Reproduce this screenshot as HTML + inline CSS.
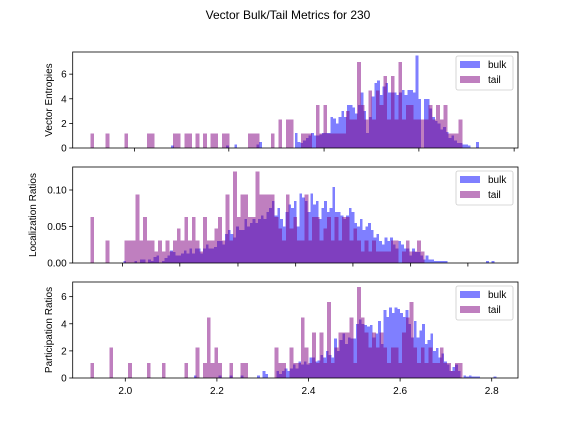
<!DOCTYPE html>
<html><head><meta charset="utf-8"><style>
html,body{margin:0;padding:0;background:#fff;}
svg{display:block;font-family:"Liberation Sans","DejaVu Sans",sans-serif;}
</style></head><body>
<svg id="chart" width="576" height="432" viewBox="0 0 576 432" xmlns="http://www.w3.org/2000/svg">
<text x="288" y="19" font-size="12" text-anchor="middle">Vector Bulk/Tail Metrics for 230</text>
</svg>
<script>
// ---- data ----
const tailStart = 1.924, tailWidth = 0.0082, bulkWidth = 0.006;
const bulkStarts = [2.10, 1.99, 2.15];
const yLabels = ["Vector Entropies", "Localization Ratios", "Participation Ratios"];
const yMax = [7.8, 0.1315, 7.08];
const yTicks1 = [0, 2, 4, 6];
const yTicks2 = [0.00, 0.05, 0.10];
const yTicks3 = [0, 2, 4, 6];
const yTickLabels2 = ["0.00", "0.05", "0.10"];
const xTicks1 = [2.02, 2.226, 2.434, 2.641, 2.849];
const xTicks2 = [1.994, 2.119, 2.246, 2.372, 2.497, 2.623, 2.748];
const xTicks3 = [2.0, 2.2, 2.4, 2.6, 2.8];
const xTickLabels3 = ["2.0", "2.2", "2.4", "2.6", "2.8"];

const bulk1 = [0.2,0,0,0,0,0,0,0,0,0, 0,0,0,0,0,0,0,0,0,0, 0.2,0,0,0.3,0,0,0,0,0,0, 0,0.3,0.5,0,0,0,0,0,0,0, 0,0,0,0,0,1.2,0.5,0.4,0.6,0.8, 1.0,1.2,1.0,1.0,1.1,1.2,1.2,1.2,2.5,2.4, 2.0,2.5,3.0,2.5,3.5,3.5,3.3,2.8,3.5,4.5, 3.0,1.2,2.5,4.2,5.3,5.5,4.3,5.0,5.3,4.5, 4.5,4.5,4.3,4.5,4.7,4.3,4.7,4.7,4.5,7.5, 4.0,0,4.0,4.0,3.2,2.5,2.2,2.0,1.5,1.7, 1.3,0.8,1.0,0.6,0.4,0.4,0.3,0.3,0.2,0, 0,0.5,0,0];
const tail1 = [1.17,0,0,0,1.17,0,0,0,0,1.17, 0,0,0,0,0,1.17,1.17,0,0,0, 0,0,1.17,1.17,0,1.17,1.17,0,1.17,0, 1.17,0,1.17,1.17,0,1.17,1.17,0,0,0, 0,0,1.17,1.17,1.17,0,0,0,1.17,0, 2.33,0,2.33,2.33,0,0,1.17,1.17,1.17,0, 3.5,1.17,3.5,1.17,1.17,1.17,1.17,1.17,3.0,2.33, 2.33,7.0,3.5,2.33,4.67,2.33,4.67,3.5,5.83,2.33, 5.83,2.33,7.0,2.33,3.5,3.5,2.33,2.33,2.33,2.33, 3.5,2.33,3.5,2.33,3.5,1.17,1.17,1.17,2.33,0];

const bulk2 = [0,.003,0,0,0,.003,0,.005,.005,0, .005,.003,.008,.01,0,.003,.007,.01,.017,.015, .01,.01,.013,.017,.013,.02,.013,.02,.02,.013, .02,.025,.02,.02,.022,.03,.03,.025,.04,.045, .04,.035,.05,.045,.045,.06,.05,.055,.06,.055, .06,.065,.06,.07,.075,.085,.065,.075,.06,.05, .07,.08,.075,.085,.05,.095,.09,.085,.07,.095, .08,.085,.06,.075,.085,.07,.075,.104,.07,.07, .065,.06,.065,.075,.07,.055,.05,.06,.045,.05, .055,.045,.035,.04,.03,.025,.035,.03,.035,.025, .02,.03,.025,.02,.02,.01,.02,.015,.015,.01, .005,.01,.005,.005,.003,.003,.003,.003,.003,0, 0,0,0,0,0,0,0,0,0,0, 0,0,0,.003,0,.003,0];
const tail2 = [.063,0,0,0,.031,0,0,0,0,.031, .031,.031,.094,.031,.063,.031,.031,.016,.031,.016, .031,.016,.031,.047,.031,.063,.031,.063,.031,.016, .063,.031,.031,.047,.063,.031,.094,.031,.125,.063, .094,.094,.063,.063,.125,.094,.094,.094,.094,.063, .047,.031,.094,.047,.063,.031,.031,.094,.031,.063, .063,.031,.047,.063,.031,.063,.031,.063,.063,.031, .047,.031,.016,.031,.016,.031,.016,.016,.016,.016, .031,.031,0,.016,.031,.016,.016,.031,.016,0, 0,0,0,0,0,0,0,0,0,0];

const bulk3 = [0.2,0,0,0,0,0,0,0,0,0.2, 0,0,0,0.2,0,0,0,0.2,0,0, 0,0,0,0.2,0,0.5,0.3,0,0,0, 0.5,0.3,0.5,0.7,0.5,0.7,1.0,0.7,1.2,1.0, 1.2,1.0,1.5,1.5,1.2,1.3,1.7,1.5,2.0,1.7, 1.5,2.9,2.0,2.8,3.3,2.5,3.0,2.9,2.9,4.0, 4.3,4.0,3.9,3.8,3.9,3.0,3.3,4.2,2.5,5.0, 4.5,5.2,4.8,5.2,5.1,4.8,4.5,5.0,4.0,3.0, 4.2,3.0,3.5,4.0,2.5,2.8,3.3,2.0,2.2,1.5, 1.8,1.2,1.0,0.5,0.8,1.0,0.5,0,0.2,0.1, 0.2,0.1,0.1,0.1,0,0,0,0,0,0.1];
const tail3 = [1.12,0,0,0,0,2.24,0,0,0,0, 1.12,0,0,0,0,1.12,0,0,0,1.12, 0,0,0,0,0,1.12,0,0,2.24,0, 1.12,4.48,1.12,2.24,1.12,0,0,1.12,0,0, 1.12,1.12,0,0,0,0,0,0,0,2.24, 1.12,1.12,0,2.24,1.12,1.12,4.48,2.24,1.12,3.36, 1.12,3.36,1.12,5.6,1.12,2.24,3.36,3.36,3.36,4.48, 1.12,6.7,4.48,3.36,2.24,3.36,2.24,3.36,2.24,1.12, 2.24,2.24,1.12,3.36,4.48,5.6,2.24,1.12,2.24,1.12, 2.24,1.12,1.12,2.24,1.12,1.12,0.5,1.12,1.12,0];

// ---- layout ----
const X0 = 72.7, X1 = 518;
const panels = [{top:52,bottom:148},{top:167,bottom:263},{top:282,bottom:378}];
const yLabelX = [52, 36, 52];
const xScale = d => 125.3 + (d - 2.0) * 458;
const NS = "http://www.w3.org/2000/svg";
const svg = document.getElementById('chart');
function mk(tag, attrs, parent){ const e=document.createElementNS(NS,tag); for(const k in attrs) e.setAttribute(k,attrs[k]); (parent||svg).appendChild(e); return e; }

const bulkData = [bulk1, bulk2, bulk3];
const tailData = [tail1, tail2, tail3];
const yTicksAll = [yTicks1, yTicks2, yTicks3];
const xTicksAll = [xTicks1, xTicks2, xTicks3];

panels.forEach((p, pi) => {
  const g = mk('g', {});
  
  
  const h = p.bottom - p.top;
  const yScale = v => p.bottom - v / yMax[pi] * h;
  const clip = mk('clipPath', {id:'clip'+pi}, g);
  mk('rect', {x:X0, y:p.top, width:X1-X0, height:h}, clip);
  const marks = mk('g', {'clip-path':'url(#clip'+pi+')', 'shape-rendering':'crispEdges'}, g);
  bulkData[pi].forEach((v, i) => {
    if (v <= 0) return;
    const x0 = xScale(bulkStarts[pi] + i*bulkWidth), x1 = xScale(bulkStarts[pi] + (i+1)*bulkWidth);
    const r = mk('rect', {x:x0, y:yScale(v), width:x1-x0, height:p.bottom-yScale(v), fill:'rgba(0,0,255,0.5)'}, marks);
    
    
  });
  tailData[pi].forEach((v, i) => {
    if (v <= 0) return;
    const x0 = xScale(tailStart + i*tailWidth), x1 = xScale(tailStart + (i+1)*tailWidth);
    const r = mk('rect', {x:x0, y:yScale(v), width:x1-x0, height:p.bottom-yScale(v), fill:'rgba(128,0,128,0.5)'}, marks);
    
    
  });
  const fr = mk('rect', {x:X0, y:p.top, width:X1-X0, height:h, fill:'none', stroke:'#000', 'stroke-width':0.8}, g);
  
  
  yTicksAll[pi].forEach((t, ti) => {
    const y = yScale(t);
    mk('line', {x1:X0-3.5, x2:X0, y1:y, y2:y, stroke:'#000', 'stroke-width':0.8}, g);
    const lab = pi===1 ? yTickLabels2[ti] : String(t);
    const tx = mk('text', {x:X0-6, y:y+3.5, 'font-size':10, 'text-anchor':'end'}, g);
    tx.textContent = lab;
    
    
  });
  xTicksAll[pi].forEach((t, ti) => {
    const x = xScale(t);
    mk('line', {x1:x, x2:x, y1:p.bottom, y2:p.bottom+3.5, stroke:'#000', 'stroke-width':0.8}, g);
    if (pi === 2) {
      const tx = mk('text', {x:x, y:p.bottom+16, 'font-size':10, 'text-anchor':'middle'}, g);
      tx.textContent = xTickLabels3[ti];
      
      
    }
  });
  const cy = (p.top + p.bottom)/2;
  const yl = mk('text', {x:0, y:0, 'font-size':10, 'text-anchor':'middle', transform:'translate('+yLabelX[pi]+','+cy+') rotate(-90)'}, g);
  yl.textContent = yLabels[pi];
  
  
  const lg = mk('g', {}, g);
  
  
  mk('rect', {x:456, y:p.top+4, width:57, height:34, rx:2, fill:'#fff', 'fill-opacity':0.8, stroke:'#ccc', 'stroke-width':0.8}, lg);
  mk('rect', {x:460, y:p.top+9, width:20, height:7, fill:'rgba(0,0,255,0.5)'}, lg);
  mk('rect', {x:460, y:p.top+24, width:20, height:7, fill:'rgba(128,0,128,0.5)'}, lg);
  const t1 = mk('text', {x:488, y:p.top+16, 'font-size':10}, lg); t1.textContent = 'bulk';
  
  
  const t2 = mk('text', {x:488, y:p.top+31, 'font-size':10}, lg); t2.textContent = 'tail';
  
  
});
</script>
</body></html>
